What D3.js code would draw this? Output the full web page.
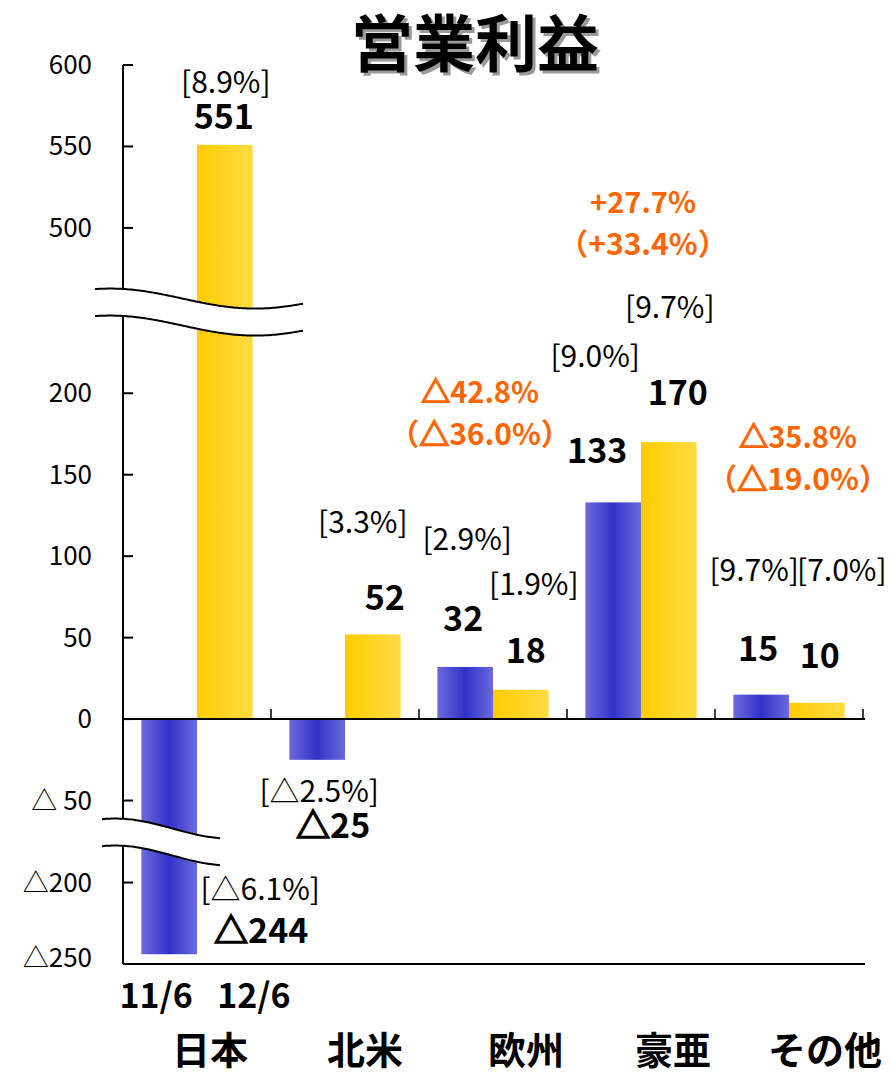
<!DOCTYPE html>
<html>
<head>
<meta charset="utf-8">
<script src="https://cdn.jsdelivr.net/npm/d3@7/dist/d3.min.js"></script>
<style>
  body { margin: 0; background: #fff; }
  text { font-family: "Noto Sans CJK JP", sans-serif; }
</style>
</head>
<body>
<svg id="chart" width="891" height="1073"></svg>
<script>
// data
const categories = ["日本", "北米", "欧州", "豪亜", "その他"];
const seriesNames = ["11/6", "12/6"];
const profit11 = [-244, -25, 32, 133, 15];
const profit12 = [551, 52, 18, 170, 10];
const margin11 = ["△6.1%", "△2.5%", "2.9%", "9.0%", "9.7%"];
const margin12 = ["8.9%", "3.3%", "1.9%", "9.7%", "7.0%"];
const growthYen = [null, null, "△42.8%", "+27.7%", "△35.8%"];
const growthLocal = [null, null, "（△36.0%）", "（+33.4%）", "（△19.0%）"];
const yTickValues = [600, 550, 500, 200, 150, 100, 50, 0, -50, -200, -250];
const yTickLabels = ["600", "550", "500", "200", "150", "100", "50", "0", "△ 50", "△200", "△250"];

// label nudges (dx from bar centre, dy from bar end), per category
const valueNudge11 = [[92, -11], [16, 78], [-2, -36], [-16, -39], [-3, -34]];
const valueNudge12 = [[-1, -16], [12, -24], [5, -27], [9, -37], [3, -35]];
const marginNudge11 = [[91, -54], [2, 42], [2, -117], [-18, -135], [-7, -114]];
const marginNudge12 = [[1, -52], [-10, -101], [13, -95], [1, -124], [25, -122]];
const growthNudge = [null, null, [-13, -264], [2, -229], [9, -247]];
const catNudge = [13, 20, 33, 32, 36];

const svg = d3.select("#chart");
const plotLeft = 123, plotRight = 863, plotTop = 65, plotBottom = 964;
const gapLow = 82, gapHigh = 35;

// broken value axis: [-250,-200] | [-50,240] | [460,600]
const k = (plotBottom - plotTop - gapLow - gapHigh) / (50 + 290 + 140);
const r1 = plotBottom - 50 * k, r2 = r1 - gapLow, r3 = r2 - 290 * k, r4 = r3 - gapHigh;
const y = d3.scaleLinear()
  .domain([-250, -200, -50, 240, 460, 600])
  .range([plotBottom, r1, r2, r3, r4, plotTop]);

const x = d3.scaleBand().domain(categories).range([plotLeft, plotRight]).padding(0);
const xs = d3.scaleBand().domain(seriesNames).range([0, x.bandwidth()])
  .paddingInner(0).paddingOuter(0.33);

const fmt = v => v < 0 ? "△" + (-v) : String(v);

// text with a heavier triangle glyph when bold
function putText(g, str, px, py, size, bold, color) {
  const t = g.append("text").attr("x", px).attr("y", py)
    .attr("text-anchor", "middle").attr("font-size", size)
    .attr("font-weight", bold ? 700 : 400).attr("fill", color || "#000");
  str.split(/(△)/).filter(s => s).forEach(s => {
    const ts = t.append("tspan").text(s);
    if (s === "△" && bold) ts.attr("stroke", color || "#000").attr("stroke-width", 1.6);
  });
  return t;
}

// gradients
const defs = svg.append("defs");
const blue = defs.append("linearGradient").attr("id", "gBlue");
blue.append("stop").attr("offset", 0).attr("stop-color", "#6b6bdc");
blue.append("stop").attr("offset", 0.5).attr("stop-color", "#3131c9");
blue.append("stop").attr("offset", 1).attr("stop-color", "#6b6bdc");
const yel = defs.append("linearGradient").attr("id", "gYel");
yel.append("stop").attr("offset", 0).attr("stop-color", "#ffcc00");
yel.append("stop").attr("offset", 1).attr("stop-color", "#ffdb45");

// title with shadow
const title = "営業利益";
svg.append("text").attr("x", 478).attr("y", 70).attr("text-anchor", "middle")
  .attr("font-size", 62).attr("font-weight", 700).attr("fill", "#9a9a9a").text(title);
svg.append("text").attr("x", 475).attr("y", 67).attr("text-anchor", "middle")
  .attr("font-size", 62).attr("font-weight", 700).attr("fill", "#000").text(title);

// bars
const rows = [];
categories.forEach((c, i) => {
  rows.push({cat: c, s: seriesNames[0], v: profit11[i], fill: "url(#gBlue)"});
  rows.push({cat: c, s: seriesNames[1], v: profit12[i], fill: "url(#gYel)"});
});
svg.append("g").selectAll("rect").data(rows).join("rect")
  .attr("x", d => x(d.cat) + xs(d.s))
  .attr("width", xs.bandwidth())
  .attr("y", d => Math.min(y(d.v), y(0)))
  .attr("height", d => Math.abs(y(d.v) - y(0)))
  .attr("fill", d => d.fill);

// axes
const ax = svg.append("g").attr("stroke", "#000").attr("stroke-width", 2);
ax.append("line").attr("x1", plotLeft).attr("x2", plotLeft).attr("y1", plotTop).attr("y2", plotBottom);
ax.append("line").attr("x1", plotLeft).attr("x2", plotRight + 2).attr("y1", plotBottom).attr("y2", plotBottom);
ax.append("line").attr("x1", plotLeft).attr("x2", plotRight + 2).attr("y1", y(0)).attr("y2", y(0));
ax.selectAll(".yt").data(yTickValues).join("line")
  .attr("x1", plotLeft).attr("x2", plotLeft + 10)
  .attr("y1", d => y(d)).attr("y2", d => y(d));
ax.selectAll(".xt").data(categories).join("line")
  .attr("stroke-width", 1.5)
  .attr("x1", d => x(d) + x.bandwidth()).attr("x2", d => x(d) + x.bandwidth())
  .attr("y1", y(0) - 10).attr("y2", y(0));

svg.append("g").selectAll("text").data(yTickValues).join("text")
  .attr("x", 92).attr("y", d => y(d) + (d === -250 ? 3 : 9))
  .attr("text-anchor", "end").attr("font-size", 26)
  .text((d, i) => yTickLabels[i]);

// axis breaks
function drawBreak(cy, x0, x1, period, peak) {
  const pts = d3.range(x0, x1 + 1, 2);
  const topY = xx => cy - 13 - 10 * Math.cos(Math.PI * (xx - peak) / period);
  const area = d3.area().x(d => d).y0(d => topY(d)).y1(d => topY(d) + 27);
  const g = svg.append("g");
  g.append("path").attr("d", area(pts)).attr("fill", "#fff");
  g.append("path").attr("d", d3.line().x(d => d).y(d => topY(d))(pts))
    .attr("fill", "none").attr("stroke", "#000").attr("stroke-width", 2);
  g.append("path").attr("d", d3.line().x(d => d).y(d => topY(d) + 27)(pts))
    .attr("fill", "none").attr("stroke", "#000").attr("stroke-width", 2);
}
drawBreak((r3 + r4) / 2 + 1, plotLeft - 28, plotLeft + 180, 145, plotLeft - 13);
drawBreak((r1 + r2) / 2, plotLeft - 21, plotLeft + 97, 115, plotLeft - 8);

// labels
const lab = svg.append("g");
const cx = (c, s) => x(c) + xs(s) + xs.bandwidth() / 2;
categories.forEach((c, i) => {
  [[profit11, margin11, valueNudge11, marginNudge11, seriesNames[0]],
   [profit12, margin12, valueNudge12, marginNudge12, seriesNames[1]]]
    .forEach(([vals, margins, vn, mn, s]) => {
      const bx = cx(c, s), by = y(vals[i]);
      putText(lab, fmt(vals[i]), bx + vn[i][0], by + vn[i][1], 34, true);
      putText(lab, "[" + margins[i] + "]", bx + mn[i][0], by + mn[i][1], 30, false);
    });
  if (growthYen[i]) {
    const gx = x(c) + x.bandwidth() / 2 + growthNudge[i][0];
    const gy = Math.min(y(profit11[i]), y(profit12[i])) + growthNudge[i][1];
    putText(lab, growthYen[i], gx, gy, 29, true, "#ff6600");
    putText(lab, growthLocal[i], gx, gy + 42, 30, true, "#ff6600");
  }
});

// series and category labels
const jp = categories[0];
svg.append("g").selectAll("text").data(seriesNames).join("text")
  .attr("x", (d, i) => cx(jp, d) + (i === 0 ? -13 : 29))
  .attr("y", 1008)
  .attr("text-anchor", "middle").attr("font-size", 34).attr("font-weight", 700)
  .text(d => d);
svg.append("g").selectAll("text").data(categories).join("text")
  .attr("x", (d, i) => x(d) + x.bandwidth() / 2 + catNudge[i])
  .attr("y", 1064)
  .attr("text-anchor", "middle").attr("font-size", 38).attr("font-weight", 700)
  .text(d => d);
</script>
</body>
</html>
